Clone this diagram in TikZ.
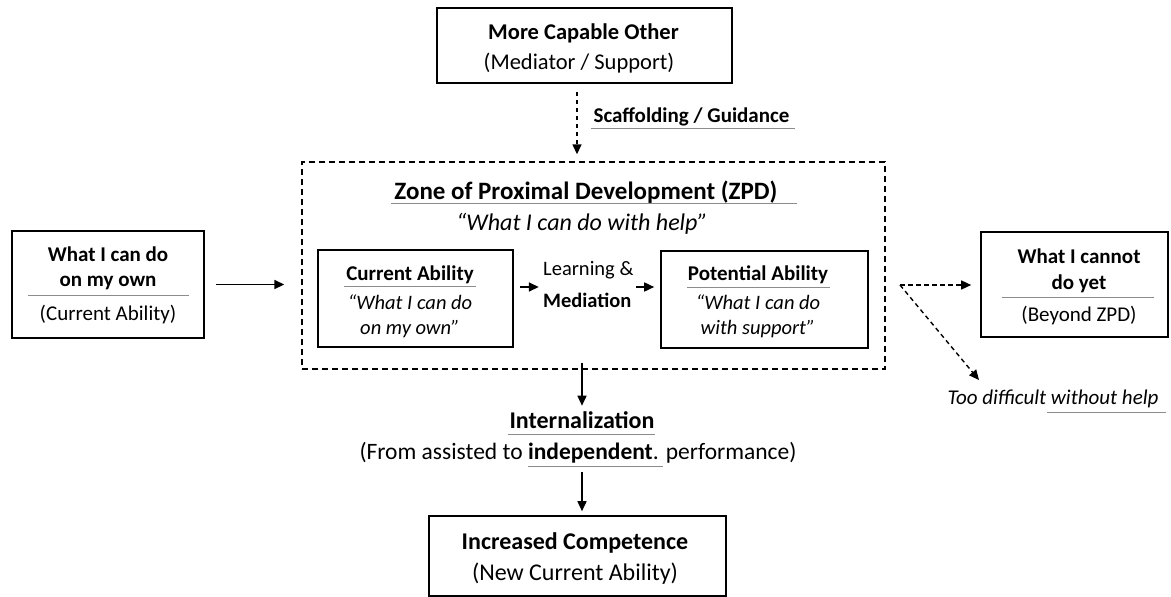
\documentclass[tikz,border=0pt]{standalone}
\usepackage{fontspec}
\setmainfont{Carlito}
\usepackage{xcolor}
\usepackage{tikz}
\usetikzlibrary{arrows.meta,positioning,calc}

\begin{document}
\begin{tikzpicture}[x=1pt,y=-1pt,
    box/.style={draw,line width=1.6pt,inner sep=0pt},
    zpdbox/.style={draw,line width=1.4pt,dash pattern=on 6pt off 4pt,inner sep=0pt},
    txt/.style={inner sep=0pt,anchor=mid,yshift=-5pt},
    rule/.style={draw=black!45,line width=1pt},
    arr/.style={-{Triangle[length=10pt,width=9pt]},line width=1.6pt},
    darr/.style={arr,line width=1.4pt,dash pattern=on 4.5pt off 3.5pt}]
    \useasboundingbox (0,0) rectangle (1171,597);

    % boxes
    \node[box,minimum width=295pt,minimum height=75pt] (mco) at (584.5,45.5) {};
    \node[zpdbox,minimum width=583pt,minimum height=207pt] (zpd) at (593.5,265.5) {};
    \node[box,minimum width=192pt,minimum height=107pt] (own) at (108,284.5) {};
    \node[box,minimum width=195pt,minimum height=97pt] (cur) at (415.5,298.5) {};
    \node[box,minimum width=207pt,minimum height=97pt] (pot) at (764.5,299.5) {};
    \node[box,minimum width=187pt,minimum height=105pt] (cannot) at (1074.5,284.5) {};
    \node[box,minimum width=297pt,minimum height=80pt] (comp) at (577.5,556) {};

    % more capable other
    \node[txt,font=\bfseries\fontsize{22.5}{27}\selectfont] at (583.5,32) {More Capable Other};
    \node[txt,font=\fontsize{22.5}{27}\selectfont] at (579,62) {(Mediator / Support)};
    \node[txt,font=\bfseries\fontsize{21}{25}\selectfont] (scaf) at (691.5,115) {Scaffolding / Guidance};
    \draw[rule] (591,128) -- (795,128);
    \coordinate (g) at (577,0);
    \draw[darr,shorten <=8pt,shorten >=7pt] (mco.south -| g) -- (zpd.north -| g);

    % zone heading
    \node[txt,font=\bfseries\fontsize{25}{30}\selectfont] (zt) at (586,192) {Zone of Proximal Development (ZPD)};
    \draw[rule] (391,203) -- (797,203);
    \node[txt,font=\itshape\fontsize{24}{29}\selectfont] at (582,223) {“What I can do with help”};

    % on my own
    \node[txt,font=\bfseries\fontsize{21}{25}\selectfont] at (108,254) {What I can do};
    \node[txt,font=\bfseries\fontsize{21}{25}\selectfont] at (108,279) {on my own};
    \draw[rule] (28,295) -- (189,295);
    \node[txt,font=\fontsize{21}{25}\selectfont] at (108,313) {(Current Ability)};
    \draw[arr,shorten <=11pt,shorten >=17pt] (own) -- (own -| zpd.west);

    % current ability
    \node[txt,font=\bfseries\fontsize{21}{25}\selectfont] at (410,273) {Current Ability};
    \draw[rule] (344,286) -- (476,286);
    \node[txt,font=\itshape\fontsize{20.5}{25}\selectfont] at (410,302) {“What I can do};
    \node[txt,font=\itshape\fontsize{20.5}{25}\selectfont] at (410,327) {on my own”};

    % learning & mediation
    \node[txt,anchor=west,font=\fontsize{20.5}{25}\selectfont] (learn) at (543,265) {Learning \&};
    \node[txt,anchor=west,font=\bfseries\fontsize{20.5}{25}\selectfont] (med) at (543,295) {Mediation};
    \draw[arr] ([xshift=6pt,yshift=11.5pt]cur.east) -- ++(19,0);
    \draw[arr] ([xshift=-24pt,yshift=12.5pt]pot.west) -- ++(18,0);

    % potential ability
    \node[txt,font=\bfseries\fontsize{21}{25}\selectfont] at (758,273) {Potential Ability};
    \draw[rule] (687,287) -- (830,287);
    \node[txt,font=\itshape\fontsize{20.5}{25}\selectfont] at (758,302) {“What I can do};
    \node[txt,font=\itshape\fontsize{20.5}{25}\selectfont] at (758,327) {with support”};

    % beyond zpd
    \node[txt,font=\bfseries\fontsize{21}{25}\selectfont] at (1079,256) {What I cannot};
    \node[txt,font=\bfseries\fontsize{21}{25}\selectfont] at (1079,282) {do yet};
    \draw[rule] (1002,297) -- (1154,297);
    \node[txt,font=\fontsize{21}{25}\selectfont] at (1079,314) {(Beyond ZPD)};
    \coordinate (fork) at (900,285);
    \coordinate (tip) at (979,380);
    \draw[darr,shorten >=9pt] (fork) -- (fork -| cannot.west);
    \draw[darr] (fork) -- (tip);
    \node[txt,font=\itshape\fontsize{21}{25}\selectfont] (hard) at (1053,397) {Too difficult without help};
    \draw[rule] (1047,412) -- (1166,412);

    % internalization
    \node[txt,font=\bfseries\fontsize{24}{29}\selectfont] (intz) at (582,421) {Internalization};
    \draw[rule] (508,434) -- (655,434);
    \node[txt,font=\fontsize{23.5}{28}\selectfont] (perf) at (578,452) {(From assisted to \textbf{independent}. performance)};
    \draw[rule] (528,466) -- (663,466);
    \draw[arr] ($(zpd.south -| intz)+(0,-7)$) -- ++(0,43);
    \draw[arr,shorten >=4pt] (intz |- 0,472) -- (intz |- comp.north);

    % increased competence
    \node[txt,font=\bfseries\fontsize{24}{29}\selectfont] at (575,542) {Increased Competence};
    \node[txt,font=\fontsize{24}{29}\selectfont] at (575,573) {(New Current Ability)};
\end{tikzpicture}
\end{document}
